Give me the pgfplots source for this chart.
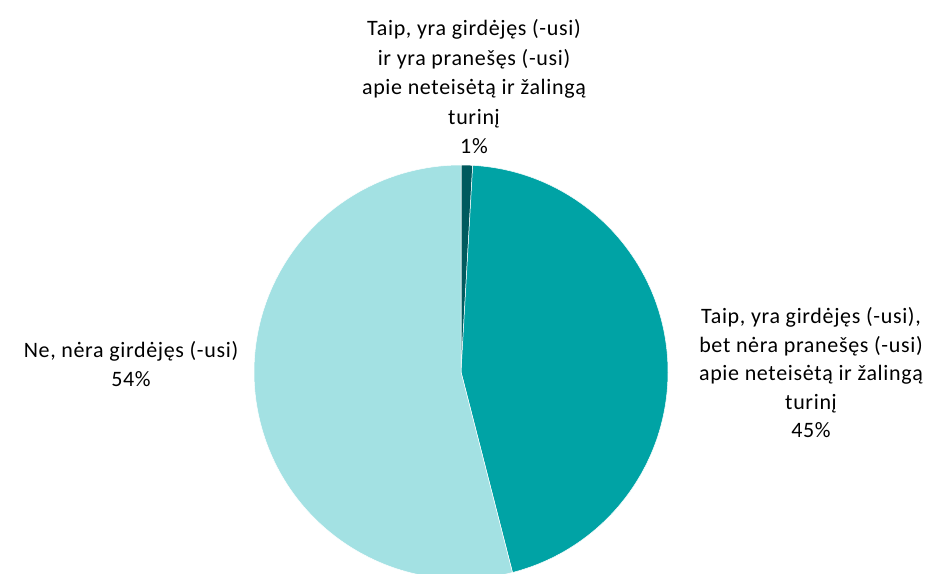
\documentclass[border=0pt]{standalone}
\usepackage{pgfplots}
\pgfplotsset{compat=1.18}
\usepackage{pgfplotstable}
\usepackage{fontspec}
\setmainfont{Carlito}[LetterSpace=3]
\definecolor{sdark}{HTML}{005A5E}
\definecolor{steal}{HTML}{00A3A5}
\definecolor{slight}{HTML}{A3E1E3}
\pgfplotstableread{
label value
a 0.9
b 45.1
c 54.0
}\piedata
\pgfplotstablegetelem{0}{value}\of\piedata\let\va\pgfplotsretval
\pgfplotstablegetelem{1}{value}\of\piedata\let\vb\pgfplotsretval
\pgfplotstablegetelem{2}{value}\of\piedata\let\vc\pgfplotsretval
\begin{document}
\begin{tikzpicture}
\useasboundingbox (0,0) rectangle (933bp,574bp);
\clip (0,0) rectangle (933bp,574bp);
\begin{axis}[
  at={(0,0)}, anchor=south west,
  scale only axis, width=933bp, height=574bp,
  xmin=0, xmax=933, ymin=0, ymax=574,
  hide axis, clip=true,
]
\fill[sdark, draw=white, line width=0.5bp] (axis cs:461,202) -- ++(90:207bp) arc[start angle=90, delta angle={-\va*3.6}, radius=207bp] -- cycle;
\fill[steal, draw=white, line width=0.5bp] (axis cs:461,202) -- ++({90-\va*3.6}:207bp) arc[start angle={90-\va*3.6}, delta angle={-\vb*3.6}, radius=207bp] -- cycle;
\fill[slight, draw=white, line width=0.5bp] (axis cs:461,202) -- ++({90-(\va+\vb)*3.6}:207bp) arc[start angle={90-(\va+\vb)*3.6}, delta angle={-\vc*3.6}, radius=207bp] -- cycle;
\node[align=center, inner sep=0pt, font=\fontsize{22bp}{29.5bp}\selectfont] at (axis cs:474,487) {Taip, yra girdėjęs (-usi)\\ir yra pranešęs (-usi)\\apie neteisėtą ir žalingą\\turinį\\1\%};
\node[align=center, inner sep=0pt, font=\fontsize{22bp}{28.5bp}\selectfont] at (axis cs:811,201) {Taip, yra girdėjęs (-usi),\\bet nėra pranešęs (-usi)\\apie neteisėtą ir žalingą\\turinį\\45\%};
\node[align=center, inner sep=0pt, font=\fontsize{22bp}{28.5bp}\selectfont] at (axis cs:131,210) {Ne, nėra girdėjęs (-usi)\\54\%};
\end{axis}
\end{tikzpicture}
\end{document}
